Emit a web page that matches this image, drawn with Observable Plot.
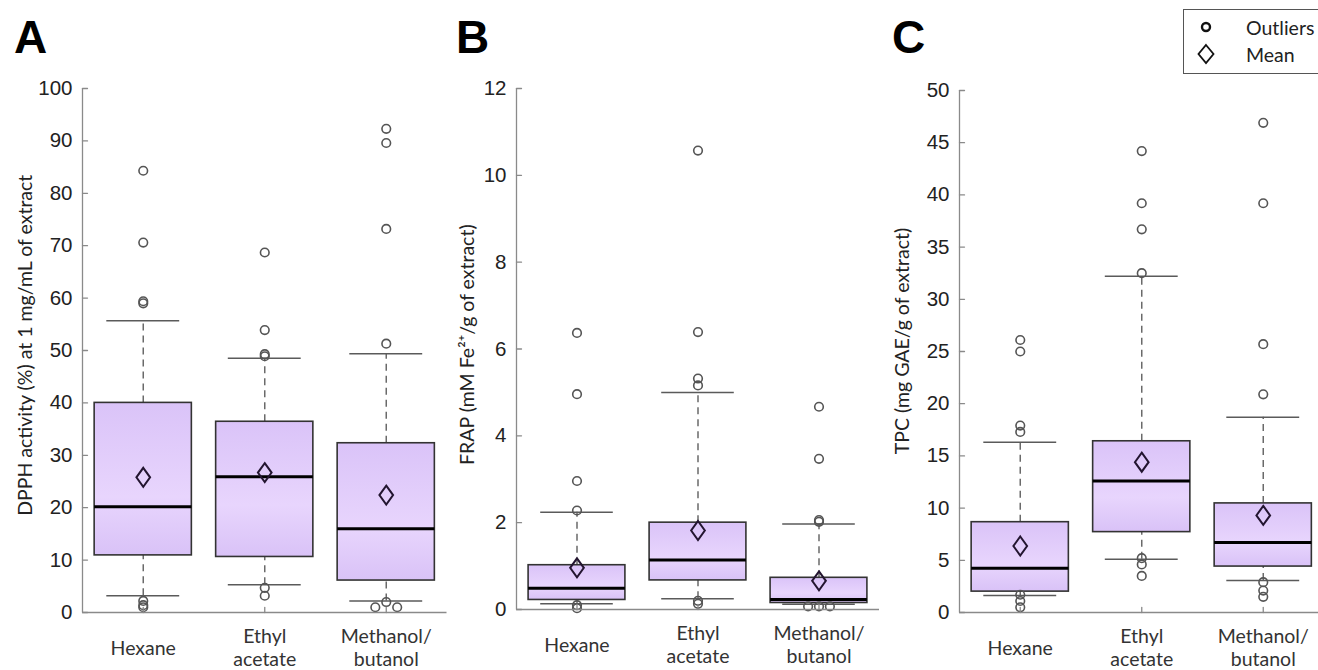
<!DOCTYPE html>
<html><head><meta charset="utf-8">
<script src="https://cdn.jsdelivr.net/npm/d3@7"></script>
<script src="https://cdn.jsdelivr.net/npm/@observablehq/plot@0.6"></script>
<style>
body{margin:0;background:#fff;}
#root{position:relative;width:1318px;height:670px;overflow:hidden;background:#fff;}
.panel{position:absolute;top:0;overflow:hidden;}
.letter{position:absolute;font-family:"Liberation Sans",Arial,sans-serif;font-weight:bold;font-size:46px;line-height:1;color:#000;}
#legend{position:absolute;left:1183px;top:9px;width:150px;height:63px;border:1.5px solid #555;background:#fff;font-family:Lato,sans-serif;font-size:19.5px;color:#222;}
#legend .row{position:absolute;left:0;display:flex;align-items:center;}
#legend svg{display:block;}
</style></head><body><div id="root"></div>
<script>
const categories = ["Hexane", "Ethyl\nacetate", "Methanol/\nbutanol"];

// Panel A: DPPH
const dpphQ1 = [10.9, 10.6, 6.1];
const dpphMedian = [20.2, 25.9, 16.0];
const dpphQ3 = [40.0, 36.4, 32.3];
const dpphWhiskerLow = [3.2, 5.3, 2.2];
const dpphWhiskerHigh = [55.7, 48.5, 49.4];
const dpphMean = [25.8, 26.7, 22.4];
const dpphOutliers = [[84.3, 70.6, 59.4, 59.0, 2.2, 1.4, 1.0], [68.7, 53.9, 49.3, 48.9, 4.7, 3.2], [92.3, 89.6, 73.2, 51.3, 2.0, 1.0, 1.0]];
const dpphTicks = [0, 10, 20, 30, 40, 50, 60, 70, 80, 90, 100];

// Panel B: FRAP
const frapQ1 = [0.22, 0.67, 0.15];
const frapMedian = [0.49, 1.14, 0.23];
const frapQ3 = [1.02, 2.0, 0.73];
const frapWhiskerLow = [0.13, 0.25, 0.12];
const frapWhiskerHigh = [2.24, 5.0, 1.97];
const frapMean = [0.96, 1.82, 0.66];
const frapOutliers = [[6.37, 4.96, 2.96, 2.28, 0.1, 0.03], [10.57, 6.39, 5.32, 5.16, 0.2, 0.13], [4.67, 3.47, 2.06, 2.02, 0.07, 0.07, 0.07]];
const frapTicks = [0, 2, 4, 6, 8, 10, 12];

// Panel C: TPC
const tpcQ1 = [2.0, 7.7, 4.4];
const tpcMedian = [4.24, 12.6, 6.7];
const tpcQ3 = [8.65, 16.4, 10.45];
const tpcWhiskerLow = [1.63, 5.1, 3.06];
const tpcWhiskerHigh = [16.3, 32.2, 18.7];
const tpcMean = [6.37, 14.4, 9.3];
const tpcOutliers = [[26.1, 25.0, 17.9, 17.3, 1.7, 1.1, 0.5], [44.2, 39.2, 36.7, 32.5, 5.2, 4.6, 3.5], [46.9, 39.2, 25.7, 20.9, 2.9, 2.1, 1.5]];
const tpcTicks = [0, 5, 10, 15, 20, 25, 30, 35, 40, 45, 50];

const tickShape = {draw(ctx, l) { ctx.moveTo(0, 0); ctx.lineTo(0, -l); }};
const diamond = {draw(ctx, size) {
  const r = Math.sqrt(size / Math.PI), hw = r * 0.72;
  ctx.moveTo(0, -r); ctx.lineTo(hw, 0); ctx.lineTo(0, r); ctx.lineTo(-hw, 0); ctx.closePath();
}};

function outlierRows(outliers) {
  const rows = [];
  outliers.forEach((vals, i) => {
    const counts = d3.rollup(vals, v => v.length, v => v);
    const seen = new Map();
    for (const v of vals) {
      const n = counts.get(v), k = seen.get(v) || 0;
      seen.set(v, k + 1);
      let slot = k - (n - 1) / 2;
      if (n % 2 === 0) slot = slot < 0 ? Math.floor(slot) : Math.ceil(slot);
      rows.push({x: i + 1 + slot * 0.09, y: v});
    }
  });
  return rows;
}

function panel(cfg) {
  const {id, left, width, xRange, yRange, ymax, ticks, q1, med, q3, lo, hi, mean, outliers, title, titleY, titleDx} = cfg;
  const idx = [0, 1, 2];
  const gradId = "grad" + id;
  const defs = () => {
    const d = d3.create("svg:defs");
    const g = d.append("linearGradient").attr("id", gradId).attr("x1", 0).attr("y1", 0).attr("x2", 0).attr("y2", 1);
    g.append("stop").attr("offset", "0%").attr("stop-color", "#dac3f8");
    g.append("stop").attr("offset", "62%").attr("stop-color", "#e8d5fd");
    g.append("stop").attr("offset", "100%").attr("stop-color", "#d9c2f7");
    return d.node();
  };
  const plot = Plot.plot({
    width, height: 670,
    style: {background: "transparent", overflow: "hidden"},
    x: {domain: [0.5, 3.5], range: xRange, axis: null},
    y: {domain: [0, ymax], range: yRange, axis: null},
    marks: [
      defs,
      Plot.ruleX(idx, {x: i => i + 1, y1: i => q3[i], y2: i => hi[i], stroke: "#6a6a6a", strokeWidth: 1.5, strokeDasharray: "7,5"}),
      Plot.ruleX(idx, {x: i => i + 1, y1: i => lo[i], y2: i => q1[i], stroke: "#6a6a6a", strokeWidth: 1.5, strokeDasharray: "7,5"}),
      Plot.ruleY(idx, {y: i => hi[i], x1: i => i + 0.7, x2: i => i + 1.3, stroke: "#5a5a5a", strokeWidth: 1.5}),
      Plot.ruleY(idx, {y: i => lo[i], x1: i => i + 0.7, x2: i => i + 1.3, stroke: "#5a5a5a", strokeWidth: 1.5}),
      Plot.rect(idx, {x1: i => i + 0.6, x2: i => i + 1.4, y1: i => q1[i], y2: i => q3[i], fill: `url(#${gradId})`, stroke: "#333", strokeWidth: 1.6}),
      Plot.ruleY(idx, {y: i => med[i], x1: i => i + 0.6, x2: i => i + 1.4, stroke: "#000", strokeWidth: 3}),
      Plot.dot(outlierRows(outliers), {x: "x", y: "y", r: 4.3, stroke: "#555", strokeWidth: 1.6, fill: "none"}),
      Plot.dot(idx, {x: i => i + 1, y: i => mean[i], symbol: diamond, r: 9.5, stroke: "#231530", strokeWidth: 2, fill: "none"}),
      Plot.ruleX([0.5], {y1: 0, y2: ymax, stroke: "#8a8a8a", strokeWidth: 1.3}),
      Plot.ruleY([0], {x1: 0.5, x2: 3.5, stroke: "#8a8a8a", strokeWidth: 1.3}),
      Plot.vector(ticks, {x: 0.5, y: d => d, length: 5, rotate: 90, anchor: "start", shape: tickShape, stroke: "#8a8a8a", strokeWidth: 1.3}),
      Plot.vector(idx, {x: i => i + 1, y: 0, length: 5, rotate: 0, anchor: "start", shape: tickShape, stroke: "#8a8a8a", strokeWidth: 1.3}),
      Plot.text(ticks, {x: 0.5, y: d => d, text: d => String(d), dx: -10, textAnchor: "end", fontSize: 20.5, fontFamily: "Liberation Sans, Arial, sans-serif", fill: "#222"}),
      Plot.text(idx, {x: i => i + 1, y: 0, text: i => categories[i], dy: 35, lineAnchor: "middle", lineHeight: 1.15, fontSize: 19.5, fontFamily: "Lato, sans-serif", fill: "#333"}),
      Plot.text([title], {x: 0.5, y: titleY, text: d => d, rotate: -90, dx: titleDx, fontSize: 19.5, fontFamily: "Lato, sans-serif", fill: "#222"})
    ]
  });
  plot.classList.add("panel");
  plot.style.left = left + "px";
  return plot;
}

const root = document.getElementById("root");
root.appendChild(panel({id: "A", left: 0, width: 448, xRange: [82, 446.5], yRange: [612, 88], ymax: 100, ticks: dpphTicks,
  q1: dpphQ1, med: dpphMedian, q3: dpphQ3, lo: dpphWhiskerLow, hi: dpphWhiskerHigh, mean: dpphMean, outliers: dpphOutliers,
  title: "DPPH activity (%) at 1 mg/mL of extract", titleY: 51, titleDx: -57}));
root.appendChild(panel({id: "B", left: 440, width: 442, xRange: [76, 439], yRange: [609, 88], ymax: 12, ticks: frapTicks,
  q1: frapQ1, med: frapMedian, q3: frapQ3, lo: frapWhiskerLow, hi: frapWhiskerHigh, mean: frapMean, outliers: frapOutliers,
  title: "FRAP (mM Fe²⁺/g of extract)", titleY: 6.1, titleDx: -49}));
root.appendChild(panel({id: "C", left: 880, width: 438, xRange: [79, 443.5], yRange: [612, 90], ymax: 50, ticks: tpcTicks,
  q1: tpcQ1, med: tpcMedian, q3: tpcQ3, lo: tpcWhiskerLow, hi: tpcWhiskerHigh, mean: tpcMean, outliers: tpcOutliers,
  title: "TPC (mg GAE/g of extract)", titleY: 26, titleDx: -57}));

for (const [t, x, y] of [["A", 14, 14], ["B", 456, 14], ["C", 892, 14]]) {
  const d = document.createElement("div");
  d.className = "letter"; d.textContent = t; d.style.left = x + "px"; d.style.top = y + "px";
  root.appendChild(d);
}

const legend = document.createElement("div");
legend.id = "legend";
legend.innerHTML = `
  <div class="row" style="top:5px;"><svg width="46" height="24"><circle cx="22" cy="12" r="4" fill="none" stroke="#111" stroke-width="2.4"/></svg><span style="margin-left:16px">Outliers</span></div>
  <div class="row" style="top:32px;"><svg width="46" height="24"><path d="M22,3L29.5,12L22,21L14.5,12Z" fill="none" stroke="#111" stroke-width="1.8"/></svg><span style="margin-left:16px">Mean</span></div>`;
root.appendChild(legend);
</script></body></html>
